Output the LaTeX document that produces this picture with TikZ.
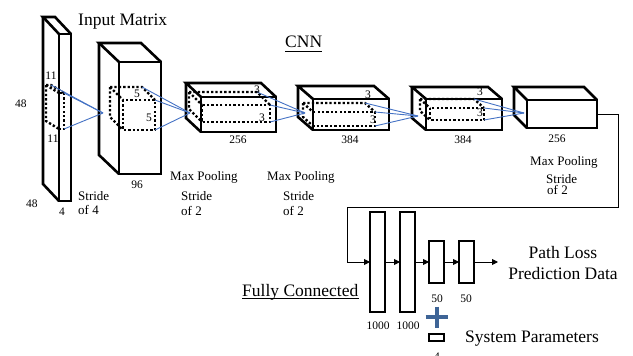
\documentclass[tikz,border=0pt]{standalone}
\usepackage{fontspec}
\setmainfont{Liberation Serif}
\usetikzlibrary{arrows.meta}
\definecolor{kblue}{RGB}{68,114,196}
\definecolor{plusblue}{RGB}{62,100,150}
\tikzset{
  boxline/.style={line width=2.6pt, black},
  dotline/.style={line width=2.4pt, dash pattern=on 2.3pt off 2.1pt, black},
  kline/.style={line width=0.9pt, kblue},
  conn/.style={line width=0.9pt, black},
  arr/.style={conn, -{Triangle[length=6pt,width=6pt]}},
  big/.style={font=\fontsize{17.5}{21}\selectfont, inner sep=0pt},
  midtxt/.style={font=\fontsize{13}{15}\selectfont, inner sep=0pt},
  num/.style={font=\fontsize{11.5}{13}\selectfont, inner sep=0pt},
  fcbox/.style={draw, line width=2.6pt, minimum width=15pt, inner sep=0pt, outer sep=0pt},
}
% name, x1, y1, x2, y2, dx, dy
\newcommand{\mycuboid}[7]{%
  \coordinate (#1-ftl) at (#2,#3);
  \coordinate (#1-fbr) at (#4,#5);
  \coordinate (#1-east) at (#4,{(#3+#5)/2});
  \draw[boxline] (#2,#3) rectangle (#4,#5);
  \draw[boxline] (#2,#3) -- ({#2-#6},{#3-#7}) -- ({#4-#6},{#3-#7}) -- (#4,#3);
  \draw[boxline] ({#2-#6},{#3-#7}) -- ({#2-#6},{#5-#7}) -- (#2,#5);
}
\newcommand{\mykernel}[7]{%
  \coordinate (#1-btr) at ({#4-#6},{#3-#7});
  \coordinate (#1-ftr) at (#4,#3);
  \coordinate (#1-fbr) at (#4,#5);
  \draw[dotline] ({#2-#6},{#3-#7}) -- ({#4-#6},{#3-#7}) -- (#4,#3);
  \draw[dotline] ({#2-#6},{#3-#7}) -- ({#2-#6},{#5-#7}) -- (#2,#5);
  \draw[dotline] ({#2-#6},{#3-#7}) -- (#2,#3);
  \draw[dotline] (#2,#3) rectangle (#4,#5);
}
\begin{document}
\begin{tikzpicture}[x=1pt,y=-1pt]
\useasboundingbox (0,0) rectangle (633,356);

% CNN cuboids
\mycuboid{c1}{59}{34}{71}{201}{16}{17}
\mycuboid{c2}{119}{62}{161}{174}{20}{19}
\mycuboid{c3}{201}{97}{276}{132}{15}{14}
\mycuboid{c4}{313}{99}{389}{130}{15}{13}
\mycuboid{c5}{426}{99}{502}{130}{14}{12}
\mycuboid{c6}{527}{100}{597}{128}{13}{13}

% kernels
\mykernel{k1}{59}{93}{64}{129}{13}{8}
\mykernel{k2}{123}{100}{155}{130}{13}{13}
\mykernel{k3}{202}{105}{270}{122}{13}{13}
\mykernel{k4}{313}{112}{375}{126}{10}{9}
\mykernel{k5}{430}{108}{484}{120}{10}{9}

% apexes
\coordinate (a2) at (103,113);
\coordinate (a3) at (190,113);
\coordinate (a4) at (305,113);
\coordinate (a5) at (418,116);
\coordinate (a6) at (524,113);
\foreach \k/\a in {k1/a2,k2/a3,k3/a4,k4/a5,k5/a6}{
  \draw[kline] (\k-btr) -- (\a);
  \draw[kline] (\k-ftr) -- (\a);
  \draw[kline] (\k-fbr) -- (\a);
}

% kernel labels
\node[num, anchor=base] (l11a) at (51,79) {11};
\node[num, anchor=base] (l11b) at (53,142) {11};
\node[num, anchor=base] (l5a) at (137,97) {5};
\node[num, anchor=base] (l5b) at (149,121) {5};
\node[num, anchor=base] (l3a) at (257,93) {3};
\node[num, anchor=base] (l3b) at (262,121) {3};
\node[num, anchor=base] (l3c) at (368,98) {3};
\node[num, anchor=base] (l3d) at (373,123) {3};
\node[num, anchor=base] (l3e) at (480,95) {3};
\node[num, anchor=base] (l3f) at (480,116) {3};

% size labels
\node[num, anchor=base] (s48a) at (21,107) {48};
\node[num, anchor=base] (s48b) at (32,207) {48};
\node[num, anchor=base] (s4) at (62,215) {4};
\node[num, anchor=base] (s96) at (137,188) {96};
\node[num, anchor=base] (s256a) at (238,143) {256};
\node[num, anchor=base] (s384a) at (350,143) {384};
\node[num, anchor=base] (s384b) at (463,143) {384};
\node[num, anchor=base] (s256b) at (557,142) {256};

% titles
\node[big, anchor=base west] (inmat) at (78,26) {Input Matrix};
\node[big, anchor=base west] (cnn) at (285,48) {CNN};
\draw[line width=0.8pt] ([yshift=-3pt]cnn.base west) -- ([yshift=-3pt]cnn.base east);

% stride / pooling labels
\node[midtxt, anchor=base west] (st4a) at (78,200) {Stride};
\node[midtxt, anchor=base west] (st4b) at (78,214.5) {of 4};
\node[midtxt, anchor=base west] (mp1) at (170,180.5) {Max Pooling};
\node[midtxt, anchor=base west] (mp1a) at (181,200) {Stride};
\node[midtxt, anchor=base west] (mp1b) at (181,215.5) {of 2};
\node[midtxt, anchor=base west] (mp2) at (267,180.5) {Max Pooling};
\node[midtxt, anchor=base west] (mp2a) at (283,200) {Stride};
\node[midtxt, anchor=base west] (mp2b) at (283,215.5) {of 2};
\node[midtxt, anchor=base west] (mp3) at (530,165) {Max Pooling};
\node[midtxt, anchor=base west] (mp3a) at (546,183) {Stride};
\node[midtxt, anchor=base west] (mp3b) at (547,194.5) {of 2};

% fully connected
\node[fcbox, minimum height=100pt] (f1) at (377.5,262) {};
\node[fcbox, minimum height=100pt] (f2) at (407.5,262) {};
\node[fcbox, minimum height=42pt] (f3) at (436.5,262) {};
\node[fcbox, minimum height=42pt] (f4) at (466.5,262) {};
\node[fcbox, minimum height=7pt] (sp) at (436.5,337.5) {};

\coordinate (r1) at (618,114);
\coordinate (r2) at (618,207);
\coordinate (r3) at (347,207);
\coordinate (r4) at (347,262);
\coordinate (out) at (498,262);
\draw[conn] (c6-east) -- (r1) -- (r2) -- (r3) -- (r4);
\draw[arr] (r4) -- (f1.west);
\draw[arr] (f1.east) -- (f2.west);
\draw[arr] (f2.east) -- (f3.west);
\draw[arr] (f3.east) -- (f4.west);
\draw[arr] (f4.east) -- (out);

\node[num, anchor=base] (n1000a) at (378,329) {1000};
\node[num, anchor=base] (n1000b) at (408,329) {1000};
\node[num, anchor=base] (n50a) at (437,302) {50};
\node[num, anchor=base] (n50b) at (466,302) {50};
\node[num, anchor=base] (n4) at (437,360) {4};

% plus
\draw[plusblue, line width=4pt] (425.5,317) -- (448,317);
\draw[plusblue, line width=4pt] (437,306.5) -- (437,327.5);

\node[big, anchor=base west] (fc) at (242,296) {Fully Connected};
\draw[line width=0.8pt] ([yshift=-2.5pt]fc.base west) -- ([yshift=-2.5pt]fc.base east);
\node[big, anchor=base] (pl1) at (563,258) {Path Loss};
\node[big, anchor=base] (pl2) at (563,279) {Prediction Data};
\node[big, anchor=base west] (sys) at (465,342) {System Parameters};
\end{tikzpicture}
\end{document}
